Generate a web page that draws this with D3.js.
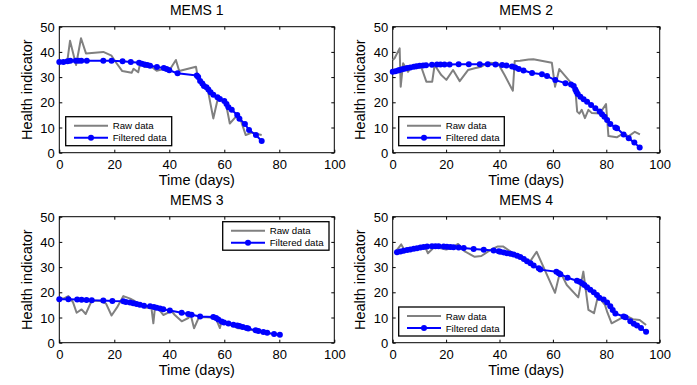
<!DOCTYPE html>
<html><head><meta charset="utf-8">
<script src="https://cdn.jsdelivr.net/npm/d3@7"></script>
<style>
body{margin:0;background:#fff}
svg{display:block}
text{font-family:"Liberation Sans",Arial,Helvetica,sans-serif;fill:#000}
</style>
</head><body>
<svg id="chart" width="697" height="385"></svg>
<script>
// ---------- data ----------
const panelTitles = ["MEMS 1", "MEMS 2", "MEMS 3", "MEMS 4"];
const xTicks = [0, 20, 40, 60, 80, 100];
const yTicks = [0, 10, 20, 30, 40, 50];
const seriesNames = ["Raw data", "Filtered data"];
const xLabel = "Time (days)";
const yLabel = "Health indicator";

const mems1RawDays   = [0, 2, 3, 3.9, 6.1, 7.9, 9.7, 16, 19, 20.5, 22.9, 26.3, 27, 28.7, 29.5, 31, 33, 35.4, 39, 40.5, 42.4, 43.6, 49.7, 50.5, 52, 54, 56, 57.8, 59, 60.5, 62, 64, 65.5, 67.8, 70, 71.5, 73.6];
const mems1RawValues = [36, 36.5, 37, 44.4, 34.8, 45.4, 39.4, 40, 38.5, 36, 32.4, 31.7, 33.3, 31.9, 36, 34, 34.5, 32.5, 33.5, 33.5, 36.8, 32.4, 34.1, 29, 27, 25, 13.6, 22.2, 21, 20, 11.6, 14, 14.5, 7, 8, 7.5, 7];
const mems1FiltDays   = [0, 1.5, 3, 4, 6, 7, 8, 10, 16, 19, 23, 26, 29, 30, 31, 32, 33, 35.5, 38, 39, 40, 43, 50, 50.5, 51.2, 52, 52.6, 53.5, 54.2, 55, 56, 57.5, 58.4, 60, 60.8, 61.5, 62.7, 64.7, 65.5, 67.5, 69, 71.5, 73.6];
const mems1FiltValues = [36, 36, 36.3, 36.5, 36.5, 36.5, 36.5, 36.5, 36.5, 36.5, 36.3, 36, 35.7, 35.3, 35, 34.8, 34.5, 34, 33.6, 33.2, 32.7, 31.5, 30.6, 30, 28.5, 27.5, 26.5, 26, 25.1, 24, 23, 22, 21.3, 20.5, 19.3, 18, 17, 15, 13.5, 11.4, 9, 7, 4.6];

const mems2RawDays   = [0, 0.7, 2.6, 3, 3.9, 5.7, 7, 8.9, 10.7, 12.6, 14.8, 15.7, 18.2, 20.1, 22.6, 25.1, 28.2, 30.7, 33.2, 35.7, 39.4, 41.9, 45, 45.7, 47.7, 50.9, 52.7, 59.6, 60.8, 62.4, 66.4, 68.3, 69.1, 69.9, 70.8, 72, 73.3, 74.5, 77.6, 79.9, 80.8, 83.9, 86.4, 88.3, 90.7, 92.6];
const mems2RawValues = [36.8, 37.5, 41.4, 26.2, 35.5, 32.1, 34, 33.5, 34, 28.2, 28.2, 34.8, 30.8, 28.9, 32.8, 28.4, 32.8, 33.5, 34.1, 35.7, 35.5, 30.8, 24.6, 36.4, 36.5, 37, 37.1, 35.7, 26.2, 33.2, 28.2, 26.2, 16.3, 15.5, 17, 13.7, 17, 15.8, 15.6, 19.3, 6.6, 6.1, 7.7, 6.5, 8.3, 7.3];
const mems2FiltDays   = [0, 1, 2, 2.6, 3.5, 4.4, 5.4, 6.6, 7.9, 8.9, 10.1, 11.4, 12.5, 14.7, 16.6, 17.9, 19.4, 21.3, 24.7, 28.5, 32.6, 35.6, 38.5, 41, 42.6, 44.7, 45.9, 47.2, 49, 52.2, 55.9, 57.8, 60.9, 64.7, 66.8, 67.8, 68.4, 68.8, 69.3, 70.3, 71.5, 72.8, 74.3, 75.9, 77.5, 78.4, 79.3, 80.3, 81.5, 83.4, 84, 86.5, 88.4, 90.5, 92.5];
const mems2FiltValues = [32.1, 32.3, 32.6, 32.8, 33.1, 33.3, 33.6, 33.8, 34.1, 34.3, 34.5, 34.6, 34.7, 34.9, 35, 35, 35, 35, 35.1, 35.1, 35.1, 35.1, 35, 34.8, 34.6, 34.2, 33.8, 33.2, 32.6, 31.6, 31.1, 30.4, 28.8, 27.6, 27.1, 26.5, 25.1, 24.2, 23.3, 22.2, 21.2, 20.2, 18.9, 17.6, 16.3, 15.3, 14.3, 13, 11.4, 10, 9.7, 7.2, 5.7, 4, 2.1];

const mems3RawDays   = [0, 1.5, 3.3, 5, 6.3, 8.1, 9.6, 11.8, 15, 17, 19, 21, 23.3, 25.8, 27.5, 29, 31, 33.5, 34.2, 34.8, 36, 37.8, 40.8, 42, 44.5, 46.9, 47.8, 49, 50.6, 52, 55, 57, 58.4, 59, 61, 63, 65, 67.5, 70, 72, 74, 76, 78, 80];
const mems3RawValues = [18, 17.5, 18.5, 16, 11.9, 13.2, 11.4, 16.7, 16.5, 15.5, 10.8, 14, 18.5, 17.5, 16.5, 15, 14, 13.8, 7.7, 14, 13.5, 11, 12.5, 11, 8.5, 9.8, 11, 5.7, 9.7, 10.2, 10, 9.5, 5.8, 8.3, 7.5, 6.8, 5.7, 5.6, 5, 4.5, 4, 3.8, 3.3, 3];
const mems3FiltDays   = [0, 3.3, 6.5, 8.1, 9.9, 11.8, 16, 19.3, 23.3, 24.2, 25.7, 26.9, 28.1, 29.3, 30.8, 33, 34.4, 35.4, 36.6, 37.8, 40.2, 44.5, 46.9, 48.1, 51.2, 56, 57, 57.8, 59, 59.9, 61.5, 63.3, 64.7, 65.5, 66.7, 68.1, 68.7, 71.4, 72.4, 74.2, 75.6, 78.1, 80.2];
const mems3FiltValues = [17.2, 17.2, 17.1, 17, 16.9, 16.8, 16.7, 16.5, 16.4, 16.2, 16, 15.7, 15.4, 15.1, 14.7, 14.5, 14.2, 13.9, 13.6, 13.3, 12.8, 11.9, 11.4, 11.1, 10.4, 10.2, 9.8, 9.2, 8.4, 8, 7.6, 7.1, 6.8, 6.6, 6.2, 5.8, 5.6, 4.9, 4.6, 4.2, 3.9, 3.5, 3.2];

const mems4RawDays   = [1.4, 3.2, 4.4, 6, 8, 10, 12, 13.2, 15.7, 18, 20, 22, 24.5, 27, 30.7, 33.2, 36.9, 39.4, 41.3, 44.4, 47, 49, 51, 53.9, 60.8, 62.7, 65.2, 69.5, 71.4, 73.3, 75.4, 76.6, 78, 79.5, 80.4, 82, 85.1, 87.5, 90, 92.5, 94.9];
const mems4RawValues = [36.5, 39, 36.8, 37, 37.5, 38, 38.2, 35.5, 38.1, 37.5, 37, 37.5, 39.2, 36.2, 34.1, 34.4, 37, 38.2, 38.2, 36, 34.5, 33, 31.5, 36.1, 19.8, 28.2, 22.9, 18, 28.2, 13, 11.7, 17.2, 17, 15, 12, 7.7, 9.5, 10.6, 9.3, 9, 7];
const mems4FiltDays   = [1.6, 2.9, 4.1, 5.4, 6.6, 7.9, 9.1, 10.4, 11.6, 12.9, 14.7, 16, 17.2, 19.1, 20.3, 21.6, 22.8, 24.7, 26.6, 30.3, 34.1, 37.8, 39.7, 40.3, 41.6, 42.8, 44.1, 45.3, 46.6, 47.8, 49.1, 50.3, 51.6, 52.8, 54.7, 55.3, 61.3, 62.2, 62.8, 65.5, 69, 70, 70.9, 71.8, 72.8, 74, 75.3, 76.5, 77.4, 79, 80.3, 81.5, 82.4, 83.4, 86.5, 87.2, 89, 90.3, 91.5, 93, 94.9];
const mems4FiltValues = [35.9, 36.2, 36.5, 36.8, 37, 37.3, 37.5, 37.8, 38, 38.2, 38.3, 38.3, 38.3, 38.2, 38.1, 38, 37.9, 37.8, 37.6, 37.2, 36.9, 36.6, 36.3, 36.1, 35.8, 35.5, 35.3, 35, 34.5, 34, 33.2, 32.3, 31.5, 30.6, 29.5, 29, 28.2, 27.6, 27.2, 25.8, 24.6, 24.2, 23.6, 22.9, 22, 21, 20, 18.9, 17.8, 17.1, 16, 14.5, 13, 11.6, 10.4, 10.1, 8.5, 7.5, 6.8, 5.8, 4.3];

// ---------- layout / style (separate from data) ----------
const layout = [
  {left: 59.3,  right: 334.3, top: 26.7,  bottom: 152.7, lx: 65.7,  ly: 116.7, lw: 106,   lh: 29},
  {left: 392.7, right: 659.7, top: 26.7,  bottom: 152.7, lx: 398.7, ly: 116.7, lw: 105.6, lh: 29},
  {left: 59.3,  right: 334.3, top: 216.7, bottom: 342.7, lx: 222.7, ly: 221.7, lw: 106.3, lh: 28.5},
  {left: 392.7, right: 659.7, top: 216.7, bottom: 342.7, lx: 398.7, ly: 307,   lw: 105.6, lh: 29}
];
const rawColor = "#808080", filtColor = "#0000ff";

const panels = [
  {raw: [mems1RawDays, mems1RawValues], filt: [mems1FiltDays, mems1FiltValues]},
  {raw: [mems2RawDays, mems2RawValues], filt: [mems2FiltDays, mems2FiltValues]},
  {raw: [mems3RawDays, mems3RawValues], filt: [mems3FiltDays, mems3FiltValues]},
  {raw: [mems4RawDays, mems4RawValues], filt: [mems4FiltDays, mems4FiltValues]}
];

const svg = d3.select("#chart");

panels.forEach((p, i) => {
  const L = layout[i];
  const x = d3.scaleLinear().domain([0, 100]).range([L.left, L.right]);
  const y = d3.scaleLinear().domain([0, 50]).range([L.bottom, L.top]);
  const g = svg.append("g");

  const tickFont = "13px";
  const ax = g.append("g").attr("transform", `translate(0,${L.bottom})`)
    .call(d3.axisBottom(x).tickValues(xTicks).tickSizeInner(-3).tickSizeOuter(0).tickPadding(6));
  ax.selectAll("text").attr("font-size", tickFont).attr("dy", null).attr("y", 16.8);
  g.append("g").attr("transform", `translate(0,${L.top})`)
    .call(d3.axisTop(x).tickValues(xTicks).tickSizeInner(-3).tickSizeOuter(0).tickFormat(""));
  const ay = g.append("g").attr("transform", `translate(${L.left},0)`)
    .call(d3.axisLeft(y).tickValues(yTicks).tickSizeInner(-3).tickSizeOuter(0).tickPadding(0));
  ay.selectAll("text").attr("font-size", tickFont).attr("x", -4.5).attr("dy", "0.36em");
  g.append("g").attr("transform", `translate(${L.right},0)`)
    .call(d3.axisRight(y).tickValues(yTicks).tickSizeInner(-3).tickSizeOuter(0).tickFormat(""));
  g.selectAll(".domain").remove();
  g.selectAll(".tick line").attr("stroke", "#000").attr("stroke-width", 1);
  g.selectAll(".tick text").attr("font-family", '"Liberation Sans",Arial,sans-serif').attr("fill", "#000");

  g.append("rect").attr("x", L.left).attr("y", L.top)
    .attr("width", L.right - L.left).attr("height", L.bottom - L.top)
    .attr("fill", "none").attr("stroke", "#000").attr("stroke-width", 1);

  const rawPts = p.raw[0].map((d, k) => [d, p.raw[1][k]]);
  const filtPts = p.filt[0].map((d, k) => [d, p.filt[1][k]]);
  const line = d3.line().x(d => x(d[0])).y(d => y(d[1]));
  g.append("path").attr("d", line(rawPts)).attr("fill", "none")
    .attr("stroke", rawColor).attr("stroke-width", 2).attr("stroke-linejoin", "round");
  g.append("path").attr("d", line(filtPts)).attr("fill", "none")
    .attr("stroke", filtColor).attr("stroke-width", 2).attr("stroke-linejoin", "round");
  g.selectAll("circle.f").data(filtPts).join("circle").attr("class", "f")
    .attr("cx", d => x(d[0])).attr("cy", d => y(d[1])).attr("r", 3).attr("fill", filtColor);

  const cx = (L.left + L.right) / 2;
  g.append("text").attr("x", cx).attr("y", L.top - 11.7).attr("text-anchor", "middle")
    .attr("font-size", "14px").text(panelTitles[i]);
  g.append("text").attr("x", cx).attr("y", L.bottom + 32.3).attr("text-anchor", "middle")
    .attr("font-size", "14.5px").text(xLabel);
  g.append("text").attr("transform", `translate(${L.left - 27.6},${(L.top + L.bottom) / 2}) rotate(-90)`)
    .attr("text-anchor", "middle").attr("font-size", "14.5px").text(yLabel);

  const lg = g.append("g").attr("transform", `translate(${L.lx},${L.ly})`);
  lg.append("rect").attr("width", L.lw).attr("height", L.lh)
    .attr("fill", "#fff").attr("stroke", "#000").attr("stroke-width", 1.3);
  const rows = [9, 21];
  lg.append("line").attr("x1", 8.3).attr("x2", 42.3).attr("y1", rows[0]).attr("y2", rows[0])
    .attr("stroke", rawColor).attr("stroke-width", 2);
  lg.append("line").attr("x1", 8.3).attr("x2", 42.3).attr("y1", rows[1]).attr("y2", rows[1])
    .attr("stroke", filtColor).attr("stroke-width", 2);
  lg.append("circle").attr("cx", 25.3).attr("cy", rows[1]).attr("r", 3).attr("fill", filtColor);
  seriesNames.forEach((s, k) => {
    lg.append("text").attr("x", 47).attr("y", rows[k] + 3.5).attr("font-size", "9.7px").text(s);
  });
});
</script>
</body></html>
